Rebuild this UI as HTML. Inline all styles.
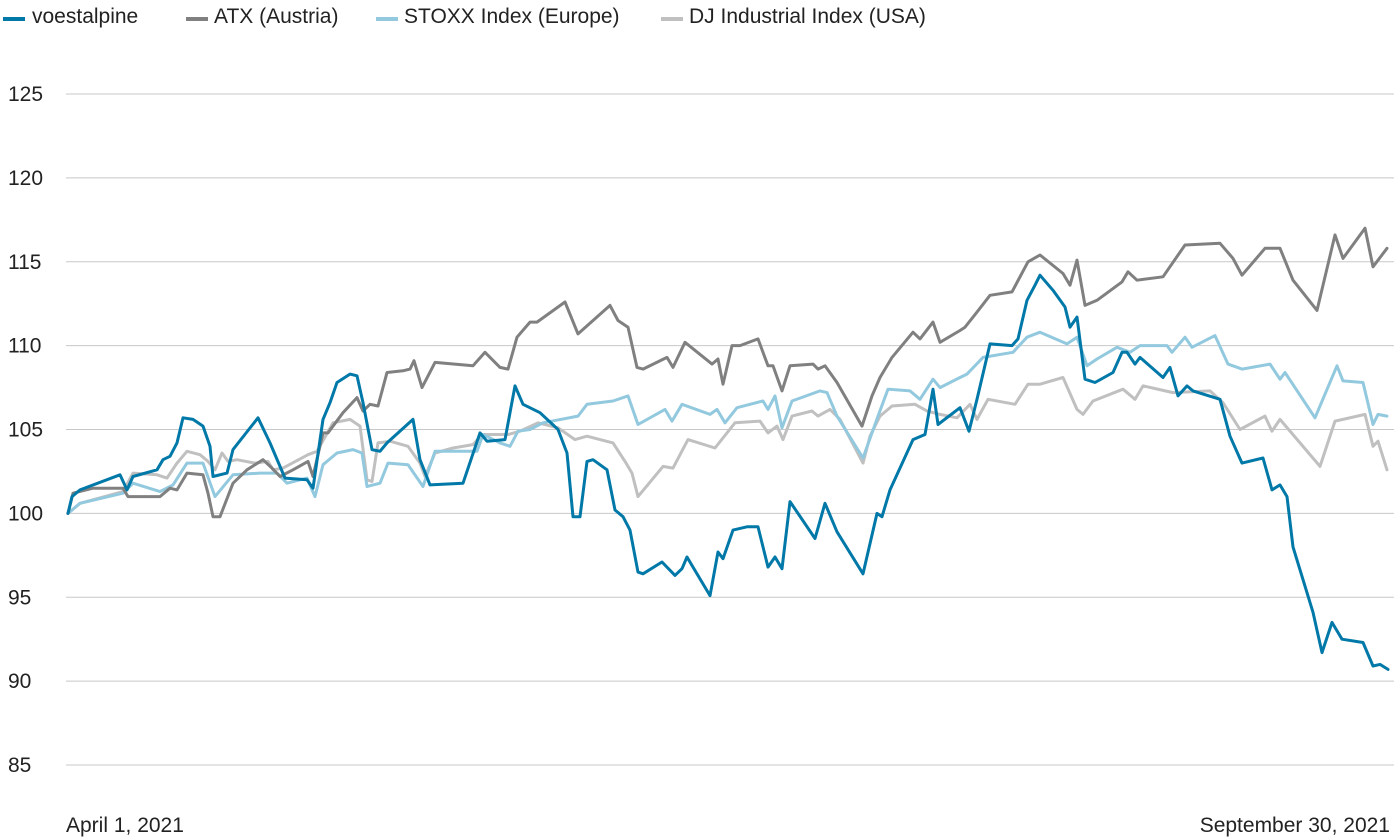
<!DOCTYPE html>
<html><head><meta charset="utf-8"><style>
body{margin:0;background:#fff;font-family:"Liberation Sans",sans-serif;}
svg{display:block}
text{font-family:"Liberation Sans",sans-serif;fill:#222;}
</style></head><body>
<svg id="chart" width="1394" height="840" xmlns="http://www.w3.org/2000/svg">
<g id="legend">
 <g><line x1="3" y1="19" x2="25" y2="19" stroke="#0078a8" stroke-width="4"/><text x="32" y="23" font-size="21">voestalpine</text></g>
 <g><line x1="186" y1="19" x2="208" y2="19" stroke="#808080" stroke-width="4"/><text x="214" y="23" font-size="21">ATX (Austria)</text></g>
 <g><line x1="376" y1="19" x2="398" y2="19" stroke="#92c9de" stroke-width="4"/><text x="404" y="23" font-size="21">STOXX Index (Europe)</text></g>
 <g><line x1="661" y1="19" x2="683" y2="19" stroke="#c0c0c0" stroke-width="4"/><text x="689" y="23" font-size="21">DJ Industrial Index (USA)</text></g>
</g>
<g id="grid"></g>
<g id="series"></g>
<text x="66" y="832" font-size="21">April 1, 2021</text>
<text x="1390" y="832" font-size="21" text-anchor="end">September 30, 2021</text>
</svg>
<script>
const yTicks=[85,90,95,100,105,110,115,120,125];
const voestData=[[0,100],[0.4,101],[1.2,101.4],[5.2,102.3],[5.9,101.4],[6.5,102.2],[8.9,102.6],[9.5,103.2],[10.2,103.4],[10.9,104.2],[11.5,105.7],[12.5,105.6],[13.5,105.2],[14.2,104],[14.5,102.2],[15.9,102.4],[16.5,103.8],[19,105.7],[20.2,104.2],[21.7,102.1],[23.9,102],[24.5,101.5],[25.5,105.6],[26.2,106.6],[26.9,107.8],[28.2,108.3],[28.9,108.2],[29.5,106.6],[30.4,103.8],[31.2,103.7],[31.9,104.2],[34.5,105.6],[35.2,103.2],[36.2,101.7],[39.5,101.8],[41.2,104.8],[41.9,104.3],[43.7,104.4],[44.7,107.6],[45.5,106.5],[47.2,106],[49,105],[49.9,103.6],[50.5,99.8],[51.2,99.8],[51.9,103.1],[52.5,103.2],[53.9,102.6],[54.7,100.2],[55.5,99.8],[56.2,99],[57,96.5],[57.5,96.4],[59.4,97.1],[60.7,96.3],[61.4,96.7],[61.9,97.4],[62.5,96.8],[64.2,95.1],[65,97.7],[65.5,97.3],[66.5,99],[67.9,99.2],[69,99.2],[70,96.8],[70.7,97.4],[71.4,96.7],[72.2,100.7],[74.7,98.5],[75.7,100.6],[76.9,98.9],[79.5,96.4],[80.9,100],[81.4,99.8],[82.2,101.4],[84.5,104.4],[85.7,104.7],[86.5,107.4],[87,105.3],[89.2,106.3],[90.1,104.9],[90.9,106.8],[92.2,110.1],[94.4,110],[95,110.4],[95.9,112.7],[96.7,113.6],[97.2,114.2],[98.5,113.3],[99.7,112.3],[100.2,111.1],[100.9,111.7],[101.7,108],[102.7,107.8],[104.5,108.4],[105.4,109.6],[105.9,109.6],[106.7,108.9],[107.2,109.3],[109.5,108.1],[110.2,108.7],[111,107],[111.9,107.6],[112.5,107.3],[115.2,106.8],[116.2,104.6],[117.4,103],[119.5,103.3],[120.4,101.4],[121.2,101.7],[121.9,101],[122.5,98],[124.5,94.1],[125.4,91.7],[126.4,93.5],[127.4,92.5],[129.5,92.3],[130.5,90.9],[131.2,91],[132,90.7]];
const atxData=[[0,100],[0.5,101.2],[2.5,101.5],[5.5,101.5],[6,101],[9.2,101],[10.2,101.5],[10.9,101.4],[11.9,102.4],[13.5,102.3],[14,101.2],[14.5,99.8],[15.2,99.8],[16.5,101.8],[17.9,102.6],[19.5,103.2],[20.4,102.7],[21.2,102.2],[22.5,102.6],[24,103.1],[24.5,102.2],[25.5,104.8],[26,104.8],[27.5,106],[28.9,106.9],[29.5,106.1],[30.2,106.5],[31,106.4],[31.9,108.4],[33.5,108.5],[34.2,108.6],[34.6,109.1],[35.4,107.5],[36.7,109],[40.5,108.8],[41.7,109.6],[43.2,108.7],[44,108.6],[44.9,110.5],[46.2,111.4],[46.9,111.4],[49.7,112.6],[51,110.7],[54.2,112.4],[55,111.5],[56,111.1],[56.9,108.7],[57.5,108.6],[59.9,109.3],[60.5,108.7],[61.7,110.2],[64.4,108.9],[65,109.2],[65.5,107.7],[66.4,110],[67.2,110],[69,110.4],[70,108.8],[70.5,108.8],[71.4,107.3],[72.2,108.8],[74.5,108.9],[75,108.6],[75.7,108.8],[76.9,107.8],[79.4,105.2],[80.4,107],[81.2,108.1],[82.4,109.3],[84.5,110.8],[85.2,110.4],[86.5,111.4],[87.2,110.2],[89.2,110.9],[89.7,111.1],[90.9,112],[92.2,113],[94.4,113.2],[96,115],[97.2,115.4],[99.5,114.3],[100.2,113.6],[100.9,115.1],[101.7,112.4],[102.9,112.7],[105.4,113.8],[106,114.4],[106.9,113.9],[109.5,114.1],[111.7,116],[115.2,116.1],[116.5,115.2],[117.4,114.2],[119.7,115.8],[121.2,115.8],[122.5,113.9],[124.9,112.1],[126.7,116.6],[127.5,115.2],[129.7,117],[130.5,114.7],[131.9,115.8]];
const stoxxData=[[0,100],[1.2,100.6],[5.5,101.2],[6.5,101.8],[9.2,101.3],[10.5,101.7],[11.9,103],[13.5,103],[14.7,101],[16.5,102.3],[19.2,102.4],[20.9,102.4],[21.9,101.8],[23.9,102.1],[24.7,101],[25.5,102.9],[26.9,103.6],[28.5,103.8],[29.4,103.6],[29.9,101.6],[31.2,101.8],[32,103],[34,102.9],[35.5,101.6],[36.7,103.7],[40.9,103.7],[41.5,104.7],[43.2,104.2],[44.2,104],[45,104.9],[46.2,105],[47.5,105.4],[51,105.8],[51.9,106.5],[54.5,106.7],[56,107],[57,105.3],[59.7,106.2],[60.4,105.5],[61.4,106.5],[64.2,105.9],[64.9,106.2],[65.7,105.4],[66.9,106.3],[69.5,106.7],[70,106.2],[70.7,107],[71.4,105.1],[72.4,106.7],[75.2,107.3],[75.9,107.2],[76.9,105.8],[79.5,103.3],[81,105.8],[82,107.4],[84.2,107.3],[85.2,106.8],[86.5,108],[87.2,107.5],[89.2,108.1],[89.9,108.3],[91.5,109.3],[94.5,109.6],[95.9,110.5],[97.2,110.8],[99.9,110.1],[100.9,110.5],[101.9,108.8],[102.9,109.2],[104.9,109.9],[106.2,109.6],[107.2,110],[109.9,110],[110.4,109.6],[111.7,110.5],[112.4,109.9],[114.7,110.6],[116,108.9],[117.4,108.6],[120.2,108.9],[121.2,108],[121.7,108.4],[124.7,105.7],[126.9,108.8],[127.5,107.9],[129.5,107.8],[130.5,105.3],[131,105.9],[131.9,105.8]];
const djData=[[0,100],[1.2,100.6],[5.5,101.3],[6.5,102.4],[8.9,102.3],[9.9,102.1],[10.9,103],[11.9,103.7],[13.2,103.5],[14,103.1],[14.7,102.6],[15.4,103.6],[16,103.1],[16.9,103.2],[18.7,103],[20,103.1],[20.5,102.6],[21.5,102.7],[24,103.5],[24.9,103.7],[26.5,105.4],[28.2,105.6],[29.2,105.2],[29.9,102],[30.4,101.9],[31,104.2],[32.2,104.3],[34,104],[35.2,103],[35.7,102.2],[36.7,103.6],[38.5,103.9],[40.5,104.1],[41.4,104.7],[44,104.7],[45.2,104.9],[47,105.4],[49,105.1],[50.7,104.4],[51.9,104.6],[54.5,104.2],[55.7,103.1],[56.4,102.4],[57,101],[59.5,102.8],[60.5,102.7],[62,104.4],[64.7,103.9],[66.7,105.4],[69.2,105.5],[70,104.8],[70.9,105.2],[71.5,104.4],[72.4,105.8],[74.4,106.1],[75,105.8],[76.2,106.2],[77.2,105.6],[79.5,103],[80.2,104.6],[81.2,105.8],[82.4,106.4],[84.7,106.5],[85.9,106.1],[87.2,105.9],[88.9,105.7],[90.2,106.5],[90.9,105.6],[92,106.8],[94.7,106.5],[96,107.7],[97.2,107.7],[99.5,108.1],[100.9,106.2],[101.5,105.9],[102.5,106.7],[105.5,107.4],[106.7,106.8],[107.5,107.6],[110.5,107.2],[114.2,107.3],[115.5,106.6],[117.2,105],[119.7,105.8],[120.4,104.9],[121.2,105.6],[125.2,102.8],[126.7,105.5],[127.5,105.6],[129.7,105.9],[130.5,104],[131,104.3],[131.9,102.6]];
const NS='http://www.w3.org/2000/svg';
const X0=68,X1=1388,TMAX=132,YV0=85,YV1=125,YP0=765,YP1=94;
function xScale(t){return X0+(t/TMAX)*(X1-X0);}
function yScale(v){return YP0+(v-YV0)/(YV1-YV0)*(YP1-YP0);}
const grid=document.getElementById('grid');
yTicks.forEach(v=>{
 const y=yScale(v);
 const l=document.createElementNS(NS,'line');
 l.setAttribute('x1',66);l.setAttribute('x2',1394);l.setAttribute('y1',y);l.setAttribute('y2',y);
 l.setAttribute('stroke','#c8c8c8');l.setAttribute('stroke-width','1');
 
 
 grid.appendChild(l);
 const tx=document.createElementNS(NS,'text');
 tx.setAttribute('x',8);tx.setAttribute('y',y+7);tx.setAttribute('font-size','21');
 tx.textContent=v;
 
 
 grid.appendChild(tx);
});
const series=document.getElementById('series');
function draw(data,color,name,w){
 const p=document.createElementNS(NS,'path');
 p.setAttribute('d',data.map((d,i)=>(i?'L':'M')+xScale(d[0]).toFixed(1)+','+yScale(d[1]).toFixed(1)).join(''));
 p.setAttribute('fill','none');p.setAttribute('stroke',color);p.setAttribute('stroke-width',w);
 p.setAttribute('stroke-linejoin','round');p.setAttribute('stroke-linecap','round');
 
 
 series.appendChild(p);
}
draw(djData,'#c0c0c0','line-dj-industrial',3);
draw(stoxxData,'#92c9de','line-stoxx',3);
draw(atxData,'#808080','line-atx',3);
draw(voestData,'#0078a8','line-voestalpine',3);
</script>
</body></html>
